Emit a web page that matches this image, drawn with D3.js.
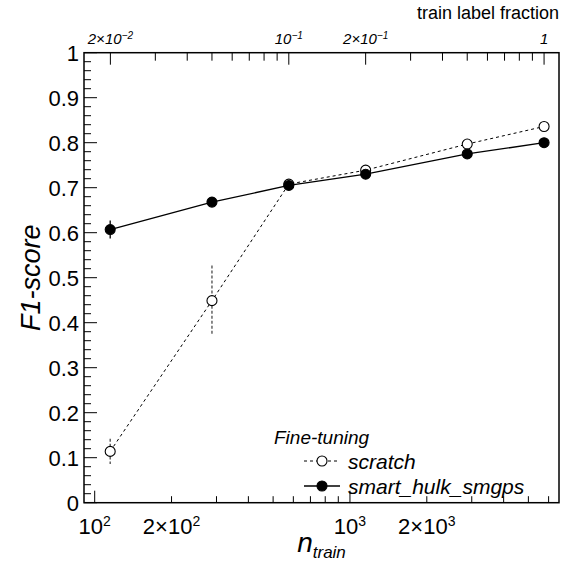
<!DOCTYPE html>
<html>
<head>
<meta charset="utf-8">
<script src="https://cdn.jsdelivr.net/npm/d3@7"></script>
<style>
  body { margin: 0; background: #fff; }
  text { font-family: "Liberation Sans", Arial, Helvetica, sans-serif; fill: #000; }
</style>
</head>
<body>
<svg id="chart" width="571" height="564"></svg>
<script>
// Training-set sizes and F1 results for the two fine-tuning strategies
const nTrain      = [115, 288, 576, 1152, 2880, 5760];
const scratchF1   = [0.114, 0.449, 0.708, 0.739, 0.797, 0.836];
const scratchErr  = [0.028, 0.078, 0.008, 0.005, 0.006, 0.004];
const smartF1     = [0.607, 0.668, 0.705, 0.730, 0.775, 0.800];
const smartErr    = [0.020, 0.005, 0.006, 0.005, 0.005, 0.004];
const seriesNames = ["scratch", "smart_hulk_smgps"];
const legendTitle = "Fine-tuning";
const fullTrainSize = 5760;          // n_train at label fraction 1

// Tick labels
const bottomLabelled = [100, 200, 1000, 2000];
const topLabelled    = [0.02, 0.1, 0.2, 1];
const yLabelled      = [0, 0.1, 0.2, 0.3, 0.4, 0.5, 0.6, 0.7, 0.8, 0.9, 1];

const svg = d3.select("#chart");
const frame = { left: 84, right: 559, top: 52.7, bottom: 502.7 };

const x = d3.scaleLog().domain([90.8, 6590]).range([frame.left, frame.right]);
const y = d3.scaleLinear().domain([0, 1]).range([frame.bottom, frame.top]);
const xTop = d3.scaleLog()
  .domain(x.domain().map(d => d / fullTrainSize))
  .range([frame.left, frame.right]);

// split a value into mantissa and power of ten for "a×10^b" labels
function sci(v) {
  const e = Math.floor(Math.log10(v) + 1e-9);
  const m = Math.round(v / Math.pow(10, e));
  return { m, e };
}
function writeSci(sel, v, supSize) {
  const { m, e } = sci(v);
  if (e === 0) { sel.text(String(m)); return; }
  if (m !== 1) sel.append("tspan").text(m + "×");
  sel.append("tspan").text("10");
  sel.append("tspan").attr("dy", "-0.55em").attr("font-size", supSize)
    .text(e < 0 ? "−" + (-e) : String(e));
}

const g = svg.append("g");

// ---- left axis ticks ----
const yMinor = d3.range(0, 1.0001, 0.02);
g.selectAll(".ymin").data(yMinor).enter().append("line")
  .attr("x1", frame.left).attr("x2", d => frame.left + (Math.abs(Math.round(d * 10) - d * 10) < 1e-6 ? 13 : 7))
  .attr("y1", d => y(d)).attr("y2", d => y(d))
  .attr("stroke", "#000").attr("stroke-width", 1);

g.selectAll(".ylab").data(yLabelled).enter().append("text")
  .attr("x", frame.left - 5).attr("y", d => y(d))
  .attr("dy", "0.36em").attr("text-anchor", "end")
  .attr("font-size", 22)
  .text(d => d3.format("~g")(d));

// ---- bottom axis ticks ----
const bottomTicks = [];
for (let dec = 100; dec <= 1000; dec *= 10)
  for (let k = 1; k <= 9; k++) {
    const v = k * dec;
    if (v >= x.domain()[0] && v <= x.domain()[1]) bottomTicks.push(v);
  }
g.selectAll(".xt").data(bottomTicks).enter().append("line")
  .attr("x1", d => x(d)).attr("x2", d => x(d))
  .attr("y1", frame.bottom)
  .attr("y2", d => frame.bottom - (sci(d).m === 1 ? 12 : 6.5))
  .attr("stroke", "#000").attr("stroke-width", 1);

g.selectAll(".xl").data(bottomLabelled).enter().append("text")
  .attr("x", d => x(d)).attr("y", 534)
  .attr("text-anchor", "middle").attr("font-size", 22)
  .each(function (d) { writeSci(d3.select(this), d, 14); });

// ---- top axis (label fraction) ----
const topTicks = [];
for (let dec = 0.01; dec <= 1.001; dec *= 10)
  for (let k = 1; k <= 9; k++) {
    const v = k * dec;
    if (v >= xTop.domain()[0] && v <= xTop.domain()[1]) topTicks.push(v);
  }
g.selectAll(".tt").data(topTicks).enter().append("line")
  .attr("x1", d => xTop(d)).attr("x2", d => xTop(d))
  .attr("y1", frame.top)
  .attr("y2", d => frame.top + (topLabelled.some(t => Math.abs(t - d) < 1e-9) ? 12 : 8))
  .attr("stroke", "#000").attr("stroke-width", 1);

g.selectAll(".tl").data(topLabelled).enter().append("text")
  .attr("x", d => xTop(d)).attr("y", 44)
  .attr("text-anchor", "middle").attr("font-size", 15).attr("font-style", "italic")
  .each(function (d) { writeSci(d3.select(this), d, 10); });

svg.append("text").attr("x", frame.right).attr("y", 19)
  .attr("text-anchor", "end").attr("font-size", 18)
  .text("train label fraction");

// ---- frame ----
svg.append("rect")
  .attr("x", frame.left).attr("y", frame.top)
  .attr("width", frame.right - frame.left).attr("height", frame.bottom - frame.top)
  .attr("fill", "none").attr("stroke", "#000").attr("stroke-width", 1.5);

// ---- axis titles ----
const xt = svg.append("text").attr("x", (frame.left + frame.right) / 2).attr("y", 552)
  .attr("text-anchor", "middle").attr("font-style", "italic");
xt.append("tspan").attr("font-size", 28).text("n");
xt.append("tspan").attr("font-size", 17).attr("dy", 6).text("train");

svg.append("text")
  .attr("transform", `translate(40,${(frame.top + frame.bottom) / 2}) rotate(-90)`)
  .attr("text-anchor", "middle").attr("font-size", 27).attr("font-style", "italic")
  .text("F1-score");

// ---- data ----
const scratch = nTrain.map((n, i) => ({ n, v: scratchF1[i], e: scratchErr[i] }));
const smart   = nTrain.map((n, i) => ({ n, v: smartF1[i], e: smartErr[i] }));
const line = d3.line().x(d => x(d.n)).y(d => y(d.v));
const R = 5;

function drawSeries(data, dashed, filled) {
  const s = svg.append("g");
  s.append("path").datum(data).attr("d", line)
    .attr("fill", "none").attr("stroke", "#000")
    .attr("stroke-width", dashed ? 1 : 1.3)
    .attr("stroke-dasharray", dashed ? "3,3" : null);
  // error bars outside the marker
  s.selectAll(".eu").data(data.filter(d => y(d.v) - y(d.v + d.e) > R)).enter().append("line")
    .attr("x1", d => x(d.n)).attr("x2", d => x(d.n))
    .attr("y1", d => y(d.v + d.e)).attr("y2", d => y(d.v) - R)
    .attr("stroke", "#000").attr("stroke-width", 1.3)
    .attr("stroke-dasharray", dashed ? "3,2" : null)
    .attr("opacity", dashed ? 0.7 : 1);
  s.selectAll(".ed").data(data.filter(d => y(d.v - d.e) - y(d.v) > R)).enter().append("line")
    .attr("x1", d => x(d.n)).attr("x2", d => x(d.n))
    .attr("y1", d => y(d.v) + R).attr("y2", d => y(d.v - d.e))
    .attr("stroke", "#000").attr("stroke-width", 1.3)
    .attr("stroke-dasharray", dashed ? "3,2" : null)
    .attr("opacity", dashed ? 0.7 : 1);
  s.selectAll("circle").data(data).enter().append("circle")
    .attr("cx", d => x(d.n)).attr("cy", d => y(d.v)).attr("r", R)
    .attr("fill", filled ? "#000" : "#fff").attr("stroke", "#000").attr("stroke-width", 1.1);
}
drawSeries(scratch, true, false);
drawSeries(smart, false, true);

// ---- legend ----
const leg = svg.append("g");
leg.append("text").attr("x", 274).attr("y", 444)
  .attr("font-size", 19).attr("font-style", "italic").text(legendTitle);
const legRows = [
  { name: seriesNames[0], dashed: true, filled: false, yy: 461 },
  { name: seriesNames[1], dashed: false, filled: true, yy: 486 }
];
legRows.forEach(r => {
  leg.append("line").attr("x1", 304).attr("x2", 340).attr("y1", r.yy).attr("y2", r.yy)
    .attr("stroke", "#000").attr("stroke-width", r.dashed ? 1 : 1.3)
    .attr("stroke-dasharray", r.dashed ? "3,3" : null);
  leg.append("circle").attr("cx", 322).attr("cy", r.yy).attr("r", R)
    .attr("fill", r.filled ? "#000" : "#fff").attr("stroke", "#000").attr("stroke-width", 1.1);
  leg.append("text").attr("x", 348).attr("y", r.yy).attr("dy", "0.36em")
    .attr("font-size", 21).attr("font-style", "italic").text(r.name);
});
</script>
</body>
</html>
